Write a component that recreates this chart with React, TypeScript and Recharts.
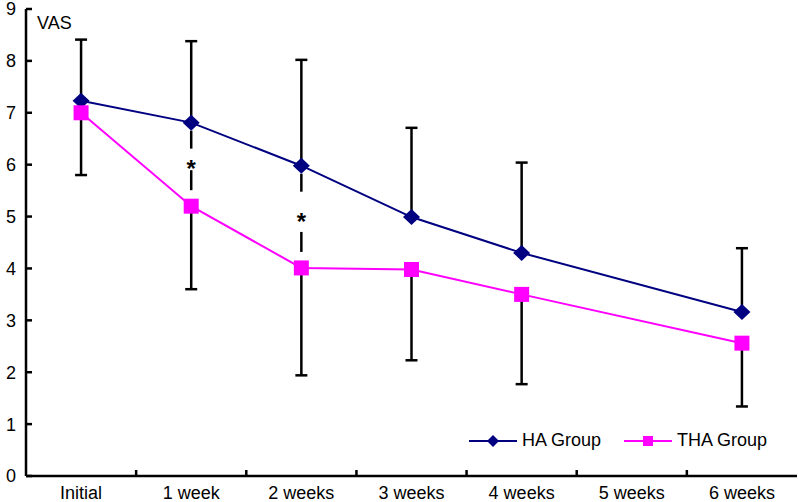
import { ErrorBar, Legend, Line, LineChart, ReferenceLine, XAxis, YAxis } from "recharts"

const categories = ["Initial", "1 week", "2 weeks", "3 weeks", "4 weeks", "5 weeks", "6 weeks"]
const haMean = [7.23, 6.81, 5.98, 4.99, 4.3, null, 3.16]
const haSd = [1.18, 1.57, 2.04, 1.72, 1.74, null, 1.23]
const thaMean = [7.0, 5.2, 4.01, 3.98, 3.5, null, 2.56]
const thaSd = [1.2, 1.6, 2.07, 1.75, 1.73, null, 1.22]
const significant = ["1 week", "2 weeks"]
const yTicks = [0, 1, 2, 3, 4, 5, 6, 7, 8, 9]
const boundaryTicks = [1, 2, 3, 4, 5, 6]

const data = categories.map((name, i) => ({
  name,
  ha: haMean[i],
  haSd: haSd[i],
  tha: thaMean[i],
  thaSd: thaSd[i],
}))

const NAVY = "#000080"
const MAGENTA = "#ff00ff"
const FONT = 'Arial, "Liberation Sans", sans-serif'
// id 0 = boundary-tick axis (sits right on the plot), id 1 = category labels
const CAT_AXIS = 1

function diamondDot(props: any) {
  const { cx, cy, index } = props
  if (cx == null || cy == null) return <g key={`ha-${index}`} />
  return (
    <path
      key={`ha-${index}`}
      d={`M${cx},${cy - 8}L${cx + 8.5},${cy}L${cx},${cy + 8}L${cx - 8.5},${cy}Z`}
      fill={NAVY}
    />
  )
}

function squareDot(props: any) {
  const { cx, cy, index } = props
  if (cx == null || cy == null) return <g key={`tha-${index}`} />
  return <rect key={`tha-${index}`} x={cx - 7.5} y={cy - 7.5} width={15} height={15} fill={MAGENTA} />
}

function SigMark(props: any) {
  const { x1, y1, y2 } = props
  const mid = (y1 + y2) / 2
  return (
    <g>
      <line x1={x1} x2={x1} y1={y1 + 8} y2={y1 + 26} stroke="#000" strokeWidth={2.5} />
      <line x1={x1} x2={x1} y1={y2 - 36} y2={y2 - 16} stroke="#000" strokeWidth={2.5} />
      <text x={x1} y={mid + 13} textAnchor="middle" fontSize={24} fontWeight="bold" fontFamily={FONT} fill="#000">
        *
      </text>
    </g>
  )
}

function VasLabel(props: any) {
  const vb = props.viewBox
  return (
    <text x={vb.x + vb.width + 11} y={vb.y + 20} fontSize={18} fontFamily={FONT} fill="#000">
      VAS
    </text>
  )
}

function EmptyTick() {
  return <g />
}

function LegendContent() {
  const item = (label: string, color: string, marker: "diamond" | "square") => (
    <div style={{ display: "flex", alignItems: "center", marginRight: 22 }}>
      <svg width={50} height={20}>
        <line x1={1} x2={49} y1={10} y2={10} stroke={color} strokeWidth={2} />
        {marker === "diamond" ? (
          <path d="M25,4L31,10L25,16L19,10Z" fill={color} />
        ) : (
          <rect x={20} y={5} width={10} height={10} fill={color} />
        )}
      </svg>
      <span style={{ marginLeft: 4 }}>{label}</span>
    </div>
  )
  return (
    <div style={{ display: "flex", fontFamily: FONT, fontSize: 18, color: "#000" }}>
      {item("HA Group", NAVY, "diamond")}
      {item("THA Group", MAGENTA, "square")}
    </div>
  )
}

export default function App() {
  const tickStyle = { fill: "#000", fontSize: 18, fontFamily: FONT }
  const axisStroke = { stroke: "#000", strokeWidth: 2.5 }
  return (
    <div style={{ position: "absolute", left: 0, top: 0, background: "#fff" }}>
      <LineChart width={798} height={502} data={data} margin={{ top: 9, right: 1, bottom: 0, left: 0 }}>
        <XAxis
          xAxisId={0}
          type="number"
          dataKey={(_d: any, i?: number) => i}
          domain={[0, 7]}
          ticks={boundaryTicks}
          interval={0}
          allowDataOverflow
          tick={EmptyTick}
          tickSize={-6}
          axisLine={axisStroke}
          tickLine={axisStroke}
          height={1}
        />
        <XAxis
          xAxisId={CAT_AXIS}
          dataKey="name"
          scale="band"
          interval={0}
          tickLine={false}
          tickSize={0}
          tickMargin={9}
          axisLine={false}
          height={25}
          tick={tickStyle}
        />
        <YAxis
          domain={[0, 9]}
          ticks={yTicks}
          interval={0}
          width={26}
          tickSize={-6}
          tickMargin={16}
          axisLine={axisStroke}
          tickLine={axisStroke}
          tick={tickStyle}
          label={{ content: VasLabel }}
        />
        <Line
          xAxisId={CAT_AXIS}
          dataKey="ha"
          name="HA Group"
          stroke={NAVY}
          strokeWidth={2}
          dot={diamondDot}
          activeDot={false}
          connectNulls
          isAnimationActive={false}
        >
          <ErrorBar
            dataKey={(d: any) => (d.haSd == null ? null : [0, d.haSd])}
            direction="y"
            width={6}
            stroke="#000"
            strokeWidth={2.5}
            isAnimationActive={false}
          />
        </Line>
        <Line
          xAxisId={CAT_AXIS}
          dataKey="tha"
          name="THA Group"
          stroke={MAGENTA}
          strokeWidth={2}
          dot={squareDot}
          activeDot={false}
          connectNulls
          isAnimationActive={false}
        >
          <ErrorBar
            dataKey={(d: any) => (d.thaSd == null ? null : [d.thaSd, 0])}
            direction="y"
            width={6}
            stroke="#000"
            strokeWidth={2.5}
            isAnimationActive={false}
          />
        </Line>
        {significant.map((name) => {
          const i = categories.indexOf(name)
          return (
            <ReferenceLine
              key={name}
              xAxisId={CAT_AXIS}
              segment={[
                { x: name, y: haMean[i] as number },
                { x: name, y: thaMean[i] as number },
              ]}
              shape={SigMark}
            />
          )
        })}
        <Legend
          verticalAlign="middle"
          align="center"
          content={LegendContent}
          wrapperStyle={{ left: 468, top: 430, width: 330, height: 22 }}
        />
      </LineChart>
    </div>
  )
}
